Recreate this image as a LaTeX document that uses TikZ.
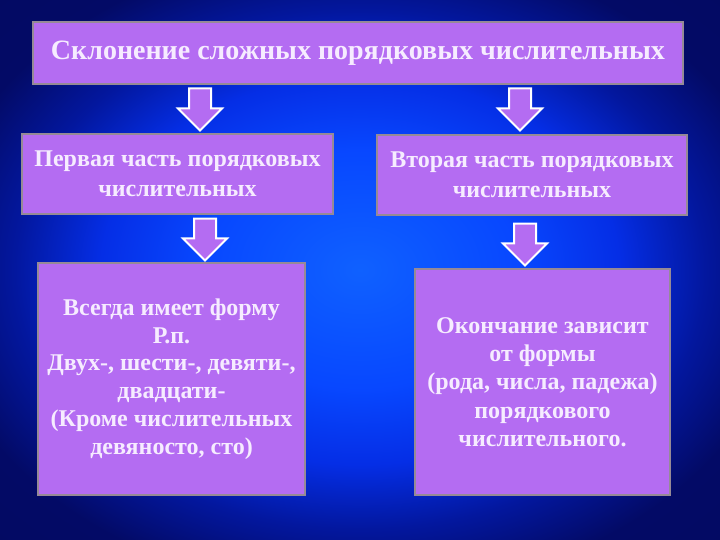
\documentclass[tikz,border=0pt]{standalone}
\usepackage{fontspec}
\setmainfont{Liberation Serif}
\usepackage{tikz}
\usetikzlibrary{positioning,calc}
\usetikzlibrary{shapes.arrows}
\definecolor{BoxViolet}{RGB}{180,108,242}
\definecolor{BoxRim}{RGB}{150,138,150}
\definecolor{PaleText}{RGB}{246,236,255}
\pgfdeclareradialshading{slideglow}{\pgfpoint{0bp}{0bp}}{
	rgb(0bp)=(0.06,0.38,1);rgb(11bp)=(0.03,0.28,1);rgb(18bp)=(0.02,0.18,0.90);
	rgb(24bp)=(0.01,0.09,0.62);rgb(30bp)=(0.01,0.04,0.40);rgb(50bp)=(0.01,0.03,0.36)}
\tikzset{
	box/.style={draw=BoxRim,fill=BoxViolet,line width=2pt,inner sep=4pt,align=center,
		text=PaleText,font=\bfseries},
	downarr/.style={single arrow,shape border rotate=270,draw=white,fill=BoxViolet,
		line width=2pt,inner sep=10pt,minimum height=42pt,minimum width=44pt,
		single arrow head extend=11pt},
}

\begin{document}
\begin{tikzpicture}[x=1pt,y=-1pt]
					\shade[shading=slideglow] (0,0) rectangle (720,540);
					\useasboundingbox (0,0) rectangle (720,540);
					\node[box,minimum width=650pt,minimum height=62pt,font=\bfseries\fontsize{28}{30}\selectfont] (title) at (358,53) {Склонение сложных порядковых числительных};
					\node[box,minimum width=311pt,minimum height=80pt,font=\bfseries\fontsize{24}{30}\selectfont] (first) at (177.5,174) {Первая часть порядковых\\числительных};
					\node[box,minimum width=310pt,minimum height=80pt,font=\bfseries\fontsize{24}{30}\selectfont] (second) at (532,175) {Вторая часть порядковых\\числительных};
					\node[box,minimum width=267pt,minimum height=232pt,font=\bfseries\fontsize{24}{27.7}\selectfont] (genitive) at (171.5,379) {Всегда имеет форму\\Р.п.\\Двух-, шести-, девяти-,\\двадцати-\\(Кроме числительных\\девяносто, сто)};
					\node[box,minimum width=255pt,minimum height=226pt,font=\bfseries\fontsize{24}{28.3}\selectfont] (ending) at (542.5,382) {Окончание зависит\\от формы\\(рода, числа, падежа)\\порядкового\\числительного.};
					\foreach \n/\x/\y in {a1/200/104,a2/520/104,a3/205/234,a4/525/239}
					\node[downarr] (\n) at (\x,\y) {};
				\end{tikzpicture}
\end{document}
